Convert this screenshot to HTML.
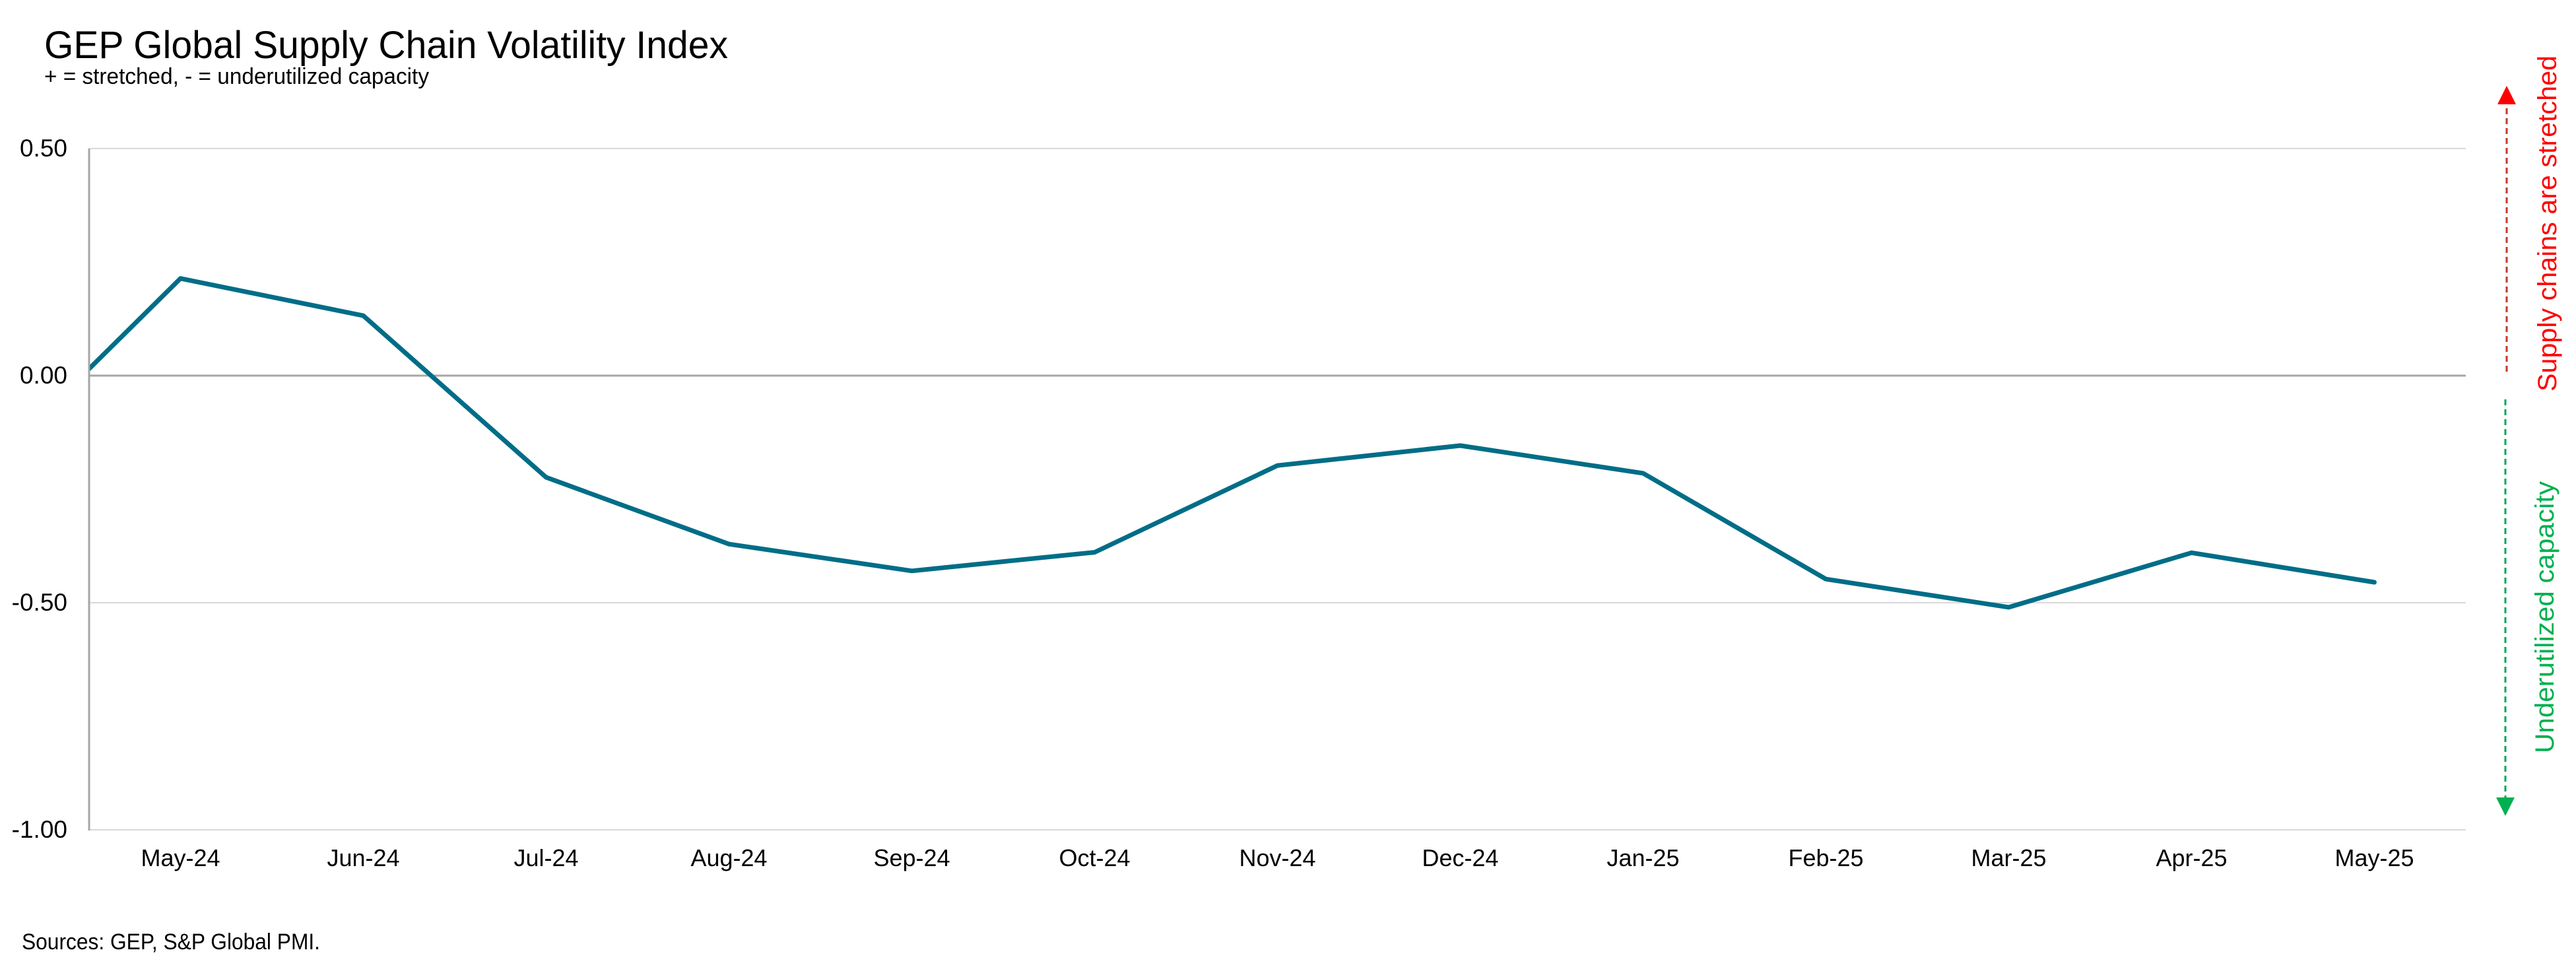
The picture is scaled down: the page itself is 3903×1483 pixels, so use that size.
<!DOCTYPE html>
<html>
<head>
<meta charset="utf-8">
<style>
html,body{margin:0;padding:0;background:#fff;}
svg{display:block;}
text{font-family:"Liberation Sans",Arial,sans-serif;}
</style>
</head>
<body>
<svg id="chart" width="3903" height="1483" viewBox="0 0 3903 1483" xmlns="http://www.w3.org/2000/svg">
  <defs>
    <clipPath id="plotClip"><rect x="135" y="150" width="3601" height="1200"/></clipPath>
  </defs>
  <text x="67" y="88" font-size="58" fill="#000" textLength="1036" lengthAdjust="spacingAndGlyphs">GEP Global Supply Chain Volatility Index</text>
  <text x="67" y="127" font-size="34" fill="#000" textLength="583" lengthAdjust="spacingAndGlyphs">+ = stretched, - = underutilized capacity</text>
  <g id="grid"></g>
  <g id="yticks"></g>
  <g id="xticks"></g>
  <g id="series" clip-path="url(#plotClip)"></g>
  <line x1="135" y1="225" x2="135" y2="1258" stroke="#a6a6a6" stroke-width="3"/>

  <g>
    <line x1="3798" y1="563" x2="3798" y2="156" stroke="#c0392b" stroke-width="3" stroke-dasharray="9,6"/>
    <polygon points="3798,130 3784,158 3812,158" fill="#ff0000"/>
    <text transform="translate(3873,593) rotate(-90)" font-size="40" fill="#ff0000" textLength="509" lengthAdjust="spacingAndGlyphs">Supply chains are stretched</text>
  </g>
  <g>
    <line x1="3796" y1="605" x2="3796" y2="1210" stroke="#00a65a" stroke-width="3" stroke-dasharray="9,6"/>
    <polygon points="3796,1236 3782,1208 3810,1208" fill="#00b050"/>
    <text transform="translate(3869,1141) rotate(-90)" font-size="40" fill="#00b050" textLength="412" lengthAdjust="spacingAndGlyphs">Underutilized capacity</text>
  </g>

  <text x="33" y="1438" font-size="34" fill="#000" textLength="452" lengthAdjust="spacingAndGlyphs">Sources: GEP, S&amp;P Global PMI.</text>
</svg>
<script>
const categories = ["May-24","Jun-24","Jul-24","Aug-24","Sep-24","Oct-24","Nov-24","Dec-24","Jan-25","Feb-25","Mar-25","Apr-25","May-25"];
const values = [0.214, 0.132, -0.224, -0.371, -0.430, -0.389, -0.198, -0.154, -0.215, -0.448, -0.510, -0.390, -0.455];
const priorValue = -0.184;
const yTickValues = [0.5, 0, -0.5, -1.0];
const yTickLabels = ["0.50", "0.00", "-0.50", "-1.00"];

const NS = "http://www.w3.org/2000/svg";
const plotLeft = 135, plotRight = 3736, plotTop = 225, plotBottom = 1257;
const yMin = -1.0, yMax = 0.5;
const band = (plotRight - plotLeft) / categories.length;
function xScale(i){ return plotLeft + band * (i + 0.5); }
function yScale(v){ return plotTop + (yMax - v) / (yMax - yMin) * (plotBottom - plotTop); }
function mk(tag, attrs){ const e = document.createElementNS(NS, tag); for (const k in attrs) e.setAttribute(k, attrs[k]); return e; }

const grid = document.getElementById("grid");
const yt = document.getElementById("yticks");
yTickValues.forEach(function(v, i){
  const y = yScale(v);
  const isZero = v === 0;
  const gl = mk("line", {x1: plotLeft, x2: plotRight, y1: y, y2: y, stroke: isZero ? "#a6a6a6" : "#d9d9d9", "stroke-width": isZero ? 3 : 2});
  
  
  grid.appendChild(gl);
  const t = mk("text", {x: 102, y: y + 12, "text-anchor": "end", "font-size": 37, fill: "#000"});
  t.textContent = yTickLabels[i];
  
  
  yt.appendChild(t);
});

const xt = document.getElementById("xticks");
categories.forEach(function(c, i){
  const t = mk("text", {x: xScale(i), y: 1312, "text-anchor": "middle", "font-size": 36, fill: "#000"});
  t.textContent = c;
  
  
  xt.appendChild(t);
});

const pts = [[xScale(-1), yScale(priorValue)]].concat(values.map(function(v, i){ return [xScale(i), yScale(v)]; }));
const line = mk("polyline", {points: pts.map(function(p){ return p[0].toFixed(1) + "," + p[1].toFixed(1); }).join(" "), fill: "none", stroke: "#006d87", "stroke-width": 7, "stroke-linejoin": "round", "stroke-linecap": "round"});


document.getElementById("series").appendChild(line);
</script>
</body>
</html>
